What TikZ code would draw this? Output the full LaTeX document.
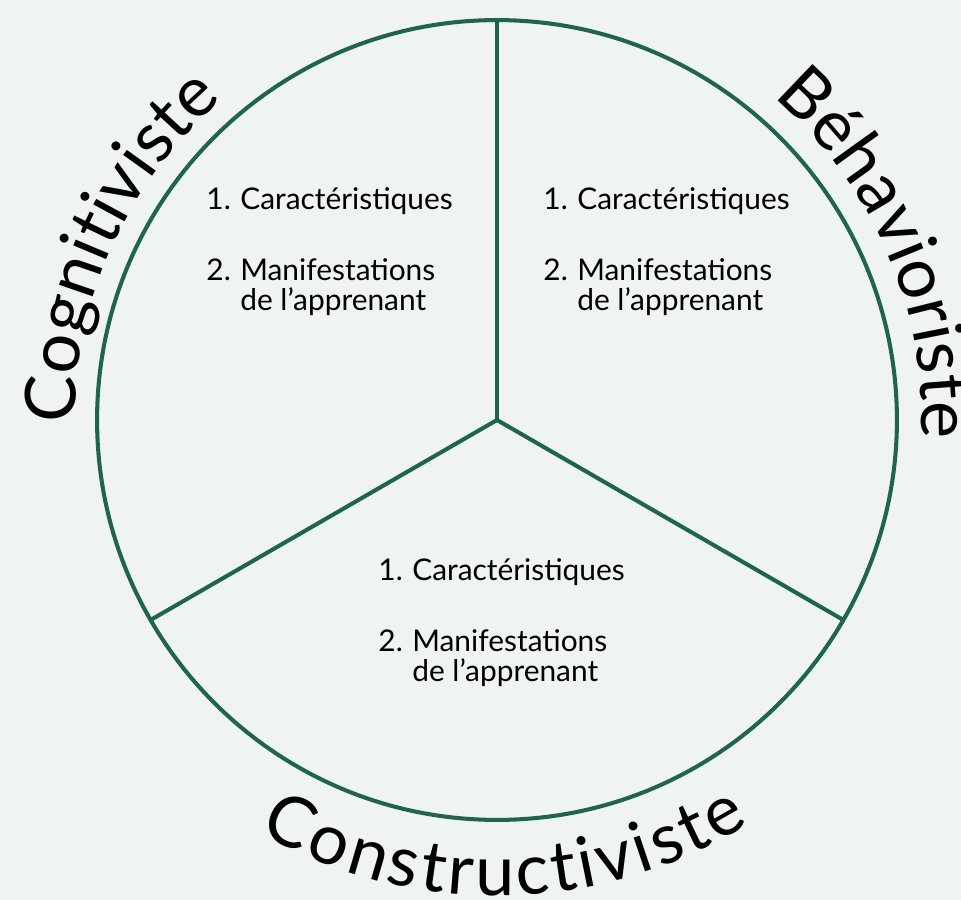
\documentclass[tikz,border=0pt]{standalone}
\usepackage{fontspec}
\setmainfont{Lato}
\usetikzlibrary{decorations.text}
\definecolor{bgcol}{RGB}{239,243,241}
\definecolor{rimcol}{RGB}{31,99,81}
\newcommand{\arcfont}{\fontsize{40}{40}\selectfont}
\tikzset{
    rim/.style={draw=rimcol, line width=2.3pt},
    item/.style={font=\fontsize{17}{17}\selectfont, inner sep=0pt},
    arclabel/.style={decorate, decoration={text along path, text align=center, text={|\arcfont|#1}}}
}
\begin{document}
\begin{tikzpicture}[x=0.02cm,y=0.02cm]
    % Background and frame
    \fill[bgcol] (-497,-480) rectangle (464,420);
    \useasboundingbox (-497,-480) rectangle (464,420);
    % Circle split in three parts
    \coordinate (hub) at (0,0);
    \coordinate (top) at (90:8cm);
    \coordinate (left) at (210:8cm);
    \coordinate (right) at (330:8cm);
    \draw[rim] (hub) circle[radius=8cm];
    \draw[rim] (hub) -- (top);
    \draw[rim] (hub) -- (left);
    \draw[rim] (hub) -- (right);
    % Labels round the circle
    \path[arclabel=Cognitiviste] (198:8.44cm) arc[start angle=198, end angle=113, radius=8.44cm];
    \path[arclabel=Béhavioriste] (68:8.5cm) arc[start angle=68, end angle=-21, radius=8.5cm];
    \path[arclabel=Constructiviste, decoration={text align={fit to path}}]
        (240:9.52cm) arc[start angle=240, end angle=302, radius=9.52cm];
    % Text in each part
    \foreach \part/\x/\y in {cog/-257/211, beh/80/211, con/-85/-160} {
        \node[item, anchor=base west] (\part-car) at (\x,\y) {Caractéristiques};
        \node[item, anchor=base east, xshift=-5pt] (\part-n1) at (\part-car.base west) {1.};
        \node[item, anchor=base west] (\part-man) at (\x,\y-71) {Manifestations};
        \node[item, anchor=base east, xshift=-5pt] (\part-n2) at (\part-man.base west) {2.};
        \node[item, anchor=base west] (\part-app) at (\x,\y-101) {de l’apprenant};
    }
\end{tikzpicture}
\end{document}
